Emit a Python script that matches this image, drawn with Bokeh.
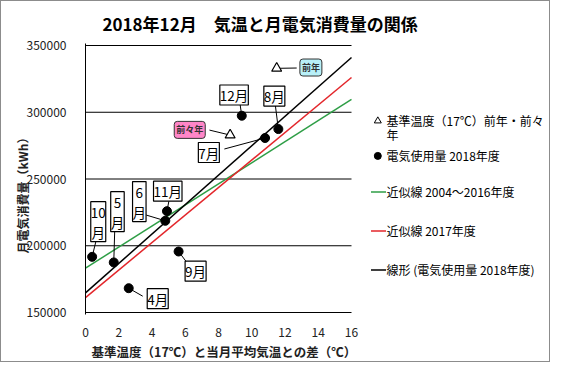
import numpy as np
from bokeh.plotting import figure
from bokeh.models import Range1d, FixedTicker, Label, Title, BasicTickFormatter
from bokeh.embed import file_html
from bokeh.resources import INLINE

# ---------------- data ----------------
months = ["4月", "5月", "6月", "7月", "8月", "9月", "10月", "11月", "12月"]
temp_diff = [2.6, 1.7, 4.8, 10.8, 11.6, 5.6, 0.4, 4.9, 9.4]          # °C
usage = [168200, 187500, 218700, 280700, 287400, 195700, 191700, 225900, 297400]  # kWh

prev_labels = ["前々年", "前年"]
prev_temp_diff = [8.7, 11.5]
prev_usage = [282900, 332900]

fit_2004_2016 = [7900, 183200]    # slope, intercept
fit_2017 = [10300, 161200]

x_ticks = [0, 2, 4, 6, 8, 10, 12, 14, 16]
y_ticks = [150000, 200000, 250000, 300000, 350000]

title_text = "2018年12月\u3000気温と月電気消費量の関係"
x_label = "基準温度（17℃）と当月平均気温との差（℃）"
y_label = "月電気消費量（kWh）"
legend_texts = ["基準温度（17℃）前年・前々", "年", "電気使用量 2018年度",
                "近似線 2004～2016年度", "近似線 2017年度", "線形 (電気使用量 2018年度)"]

# ---------------- layout constants ----------------
FONT = "Noto Sans CJK JP"
PXX = 266 / 16.0          # px per °C
PXY = 267 / 200000.0      # px per kWh
FRAME_W, FRAME_H = 464, 271
X_END = FRAME_W / PXX
Y_PAD = 2 / PXY

GREEN = "#2E9E46"
RED = "#E3262B"

p = figure(width=548, height=356, frame_width=FRAME_W, frame_height=FRAME_H,
           min_border_left=84, min_border_right=0, min_border_top=41, min_border_bottom=44,
           x_range=Range1d(0, X_END), y_range=Range1d(150000 - Y_PAD, 350000 + Y_PAD),
           output_backend="svg", toolbar_location=None, tools="")
p.outline_line_color = None
p.background_fill_color = "white"
p.border_fill_color = "white"
p.xgrid.visible = False
p.ygrid.visible = False
p.styles = {"border": "1px solid #8c8c8c", "box-sizing": "border-box"}

# title
p.title.text = title_text
p.title.align = "left"
p.title.offset = 17
p.title.standoff = 15
p.title.text_font = FONT
p.title.text_font_size = "17px"
p.title.text_font_style = "bold"
p.title.text_color = "black"

# axes
p.xaxis.ticker = FixedTicker(ticks=x_ticks)
p.xaxis.axis_line_color = None
p.xaxis.major_tick_line_color = None
p.xaxis.minor_tick_line_color = None
p.xaxis.major_label_standoff = 7
p.yaxis.ticker = FixedTicker(ticks=y_ticks)
p.yaxis.formatter = BasicTickFormatter(use_scientific=False)
p.yaxis.axis_line_color = "black"
p.yaxis.axis_line_width = 1
p.yaxis.major_tick_line_color = None
p.yaxis.minor_tick_line_color = None
p.yaxis.major_label_standoff = 13
for ax in (p.xaxis, p.yaxis):
    ax.major_label_text_font = FONT
    ax.major_label_text_font_size = "12px"
    ax.major_label_text_color = "#222222"

# axis titles as side-panel titles (positioned like the original)
p.add_layout(Title(text=x_label, align="left", offset=6, standoff=1,
                   text_font=FONT, text_font_size="12.5px", text_font_style="bold",
                   text_color="#222222"), "below")
p.add_layout(Title(text=y_label, align="left", offset=61, standoff=-14,
                   text_font=FONT, text_font_size="12px", text_font_style="bold",
                   text_color="#222222"), "left")

# horizontal grid lines (only across the plotting region 0..16)
p.segment(x0=[x_ticks[0]] * len(y_ticks), x1=[x_ticks[-1]] * len(y_ticks),
          y0=y_ticks, y1=y_ticks, line_color="black", line_width=1)

# regression lines
xl = np.array([x_ticks[0], x_ticks[-1]], dtype=float)
slope18, icpt18 = np.polyfit(temp_diff, usage, 1)
p.line(xl, fit_2004_2016[0] * xl + fit_2004_2016[1], line_color=GREEN, line_width=1.5)
p.line(xl, fit_2017[0] * xl + fit_2017[1], line_color=RED, line_width=1.5)
p.line(xl, slope18 * xl + icpt18, line_color="black", line_width=1.5)

# callouts for months: (box centre dx, dy) and (leader end dx, dy) in px, y up
month_callout_text = ["4月", "5\n月", "6\n月", "7月", "8月", "9月", "10\n月", "11月", "12月"]
box_off = [(29, -10.5), (3.7, 50.8), (-26, 19.2), (-56.2, -14.5), (-4, 33),
           (17, -19.7), (6.1, 35.2), (0.8, 20), (-7.7, 20.7)]
lead_off = [(14, -8), (1, 33.3), (-19, 5.7), (-40.7, -11), (-3.3, 26),
            (9, -12), (4.3, 17.7), (2.3, 12), (-2, 13.4)]

lx0, ly0, lx1, ly1 = [], [], [], []
for tx, uy, (ldx, ldy) in zip(temp_diff, usage, lead_off):
    lx0.append(tx); ly0.append(uy)
    lx1.append(tx + ldx / PXX); ly1.append(uy + ldy / PXY)

prev_box_off = [(-40.4, 5.2), (34.2, 0.8)]
prev_lead_off = [(-20.7, 5), (20, 0.3)]
for tx, uy, (ldx, ldy) in zip(prev_temp_diff, prev_usage, prev_lead_off):
    lx0.append(tx); ly0.append(uy)
    lx1.append(tx + ldx / PXX); ly1.append(uy + ldy / PXY)
p.segment(x0=lx0, y0=ly0, x1=lx1, y1=ly1, line_color="black", line_width=1)

# points
p.scatter(temp_diff, usage, marker="circle", size=9, fill_color="black", line_color="black")
p.scatter(prev_temp_diff, prev_usage, marker="triangle", size=10, fill_color="white",
          line_color="black", line_width=1.2)

for tx, uy, txt, (dx, dy) in zip(temp_diff, usage, month_callout_text, box_off):
    p.add_layout(Label(x=tx, y=uy, x_offset=dx, y_offset=dy, text=txt,
                       text_align="center", text_baseline="middle",
                       text_font=FONT, text_font_size="13.5px", text_color="black",
                       text_line_height=1.0,
                       background_fill_color="white", border_line_color="black",
                       border_line_width=1.2, padding=0))

prev_fill = ["#FF86C8", "#B8F0F8"]
for tx, uy, txt, (dx, dy), fc in zip(prev_temp_diff, prev_usage, prev_labels, prev_box_off, prev_fill):
    p.add_layout(Label(x=tx, y=uy, x_offset=dx, y_offset=dy, text=txt,
                       text_align="center", text_baseline="middle",
                       text_font=FONT, text_font_size="9px", text_font_style="bold",
                       text_color="#333333",
                       background_fill_color=fc, border_line_color="#333333",
                       border_line_width=1, padding=2, border_radius=3))

# ---------------- legend (drawn inside the extended frame) ----------------
def dx_(rx):
    return (rx - 86) / PXX

def dy_(ry):
    return 150000 + (313.3 - ry) / PXY

leg_sym_x = dx_(378.3)
leg_txt_x = dx_(387)
leg_line_x0, leg_line_x1 = dx_(371.5), dx_(386.5)
row_y = [121.7, 135.0, 156.7, 192.7, 231.7, 270.7]

p.scatter([leg_sym_x], [dy_(row_y[0])], marker="triangle", size=7, fill_color="white",
          line_color="black", line_width=1)
p.scatter([leg_sym_x], [dy_(row_y[2])], marker="circle", size=7, fill_color="black",
          line_color="black")
for ry, col in zip(row_y[3:], [GREEN, RED, "black"]):
    p.line([leg_line_x0, leg_line_x1], [dy_(ry), dy_(ry)], line_color=col, line_width=1.5)
p.text(x=[leg_txt_x] * len(legend_texts), y=[dy_(r) for r in row_y], text=legend_texts,
       text_font={"value": FONT}, text_font_size={"value": "12px"},
       text_align="left", text_baseline="middle", text_color="black")

open("out.html", "w").write(file_html(p, INLINE))
